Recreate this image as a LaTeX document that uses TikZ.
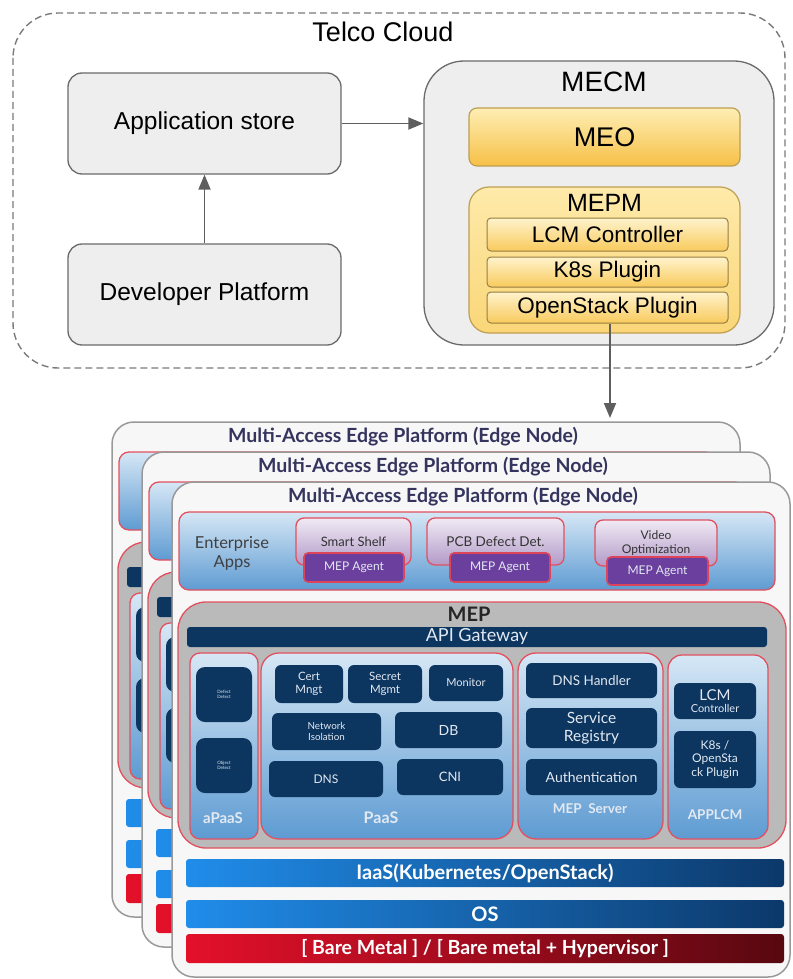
\documentclass[tikz,border=0pt]{standalone}
\usepackage{fontspec}
\setmainfont{Liberation Sans}
\newfontfamily\latofont{Lato}
\usepackage{tikz}
\usetikzlibrary{arrows.meta}
\definecolor{cloudline}{HTML}{7A7A7A}
\definecolor{boxline}{HTML}{6A6A6A}
\definecolor{boxfill}{HTML}{EEEEEE}
\definecolor{arrowgray}{HTML}{5E5E5E}
\definecolor{yelline}{HTML}{BE9E52}
\definecolor{redline}{HTML}{E2505F}
\definecolor{navy}{HTML}{0C355F}
\definecolor{titleblue}{HTML}{34345E}
\definecolor{agentfill}{HTML}{6B3F9E}
\definecolor{lighttext}{HTML}{E2E9F2}
\newcommand{\fsz}[2]{\fontsize{#1}{#2}\selectfont}
% only the front card shows its labels
\newcommand{\fronttext}[1]{\ifnum\k=3 #1\fi}
\tikzset{
    wh/.style 2 args={minimum width=#1, minimum height=#2, inner sep=0pt},
    cloud/.style={draw=cloudline, line width=1.4pt, dash pattern=on 7pt off 4pt, rounded corners=45pt},
    graybox/.style={draw=boxline, line width=1.3pt, fill=boxfill, rounded corners=14pt, font=\fsz{24.5}{28}},
    yelbox/.style={draw=yelline, line width=1.2pt, top color={rgb,255:red,254;green,238;blue,180}, bottom color={rgb,255:red,246;green,192;blue,70}, rounded corners=8pt},
    plugbox/.style={draw=yelline!80!black, line width=1pt, top color={rgb,255:red,255;green,243;blue,205}, bottom color={rgb,255:red,248;green,202;blue,92}, rounded corners=4pt, font=\fsz{22.5}{26}},
    arr/.style={draw=arrowgray, line width=1.8pt, -{Triangle[length=15pt,width=12pt]}},
    card/.style={draw=black!40, line width=1.5pt, fill=black!3, rounded corners=22pt},
    lato/.style={font=\latofont\fontsize{#1}{1.15\dimexpr#1pt\relax}\selectfont},
    latob/.style={font=\latofont\bfseries\fontsize{#1}{1.15\dimexpr#1pt\relax}\selectfont},
    band/.style={draw=redline, line width=1.3pt, top color={rgb,255:red,214;green,231;blue,245}, bottom color={rgb,255:red,94;green,155;blue,210}, rounded corners=10pt},
    appbox/.style={draw=redline, line width=1.3pt, top color={rgb,255:red,240;green,234;blue,244}, bottom color={rgb,255:red,178;green,154;blue,200}, rounded corners=8pt, text=black!80},
    agent/.style={draw=redline!85!purple, line width=1.6pt, fill=agentfill, rounded corners=4pt, text=lighttext},
    mepbox/.style={draw=redline, line width=1.3pt, fill=black!27, rounded corners=28pt},
    darkbox/.style={fill=navy, rounded corners=6pt, text=lighttext, align=center},
    bar/.style={left color={rgb,255:red,32;green,141;blue,234}, right color={rgb,255:red,12;green,56;blue,106}, rounded corners=3pt, text=white},
    redbar/.style={left color={rgb,255:red,228;green,16;blue,42}, right color={rgb,255:red,88;green,8;blue,16}, rounded corners=3pt, text=white},
}
\begin{document}
\begin{tikzpicture}[x=1pt,y=-1pt]
\useasboundingbox (0,0) rectangle (792,979);
% telco cloud
\draw[cloud] (13,13) rectangle (785,368);
\node[font=\fsz{27}{30}] (telco) at (383,32) {Telco Cloud};
\node[graybox, wh={273}{101}] (store) at (204.5,123.5) {Application store};
\node[graybox, wh={273}{101}] (devplat) at (204.5,294.5) {Developer Platform};
\node[graybox, wh={350}{284}, rounded corners=40pt] (mecm) at (599,203) {};
\node[font=\fsz{28}{30}] (mecmlbl) at (604,82) {MECM};
\node[yelbox, wh={271}{58}, font=\fsz{27}{30}] (meo) at (604.5,137) {MEO};
\node[yelbox, wh={271}{146}, rounded corners=20pt, top color={rgb,255:red,254;green,234;blue,170}, bottom color={rgb,255:red,250;green,214;blue,120}] (mepm) at (604.5,260) {};
\node[font=\fsz{25}{28}] (mepmlbl) at (604.5,203) {MEPM};
\node[plugbox, wh={241}{33}] (lcm) at (607.5,234.5) {LCM Controller};
\node[plugbox, wh={241}{30}] (k8s) at (607.5,272) {K8s Plugin};
\node[plugbox, wh={241}{31}] (ostack) at (607.5,307.5) {OpenStack Plugin};
\coordinate (edgein) at (610,418);
\draw[arr] (devplat) -- (store);
\draw[arr] (store.east) -- (store.east -| mecm.west);
\draw[arr] (ostack.south -| edgein) -- (edgein);
% edge nodes, back to front
\foreach \k/\dx/\w in {1/-60/628,2/-30/628,3/0/618}{
\begin{scope}[shift={(\dx,\dx)}]
\node[card, wh={\w}{495}] (card-\k) at ({172+\w/2},729.5) {};
\node[latob=19.5, text=titleblue] (title-\k) at (463,497) {Multi-Access Edge Platform (Edge Node)};
\node[band, wh={596}{78}] (apps-\k) at (477,551) {};
\node[lato=16.5, align=center, text=black!75] (appslbl-\k) at (232,553) {\fronttext{Enterprise\\Apps}};
\node[appbox, wh={115}{47}, lato=13] (shelf-\k) at (353.5,541.5) {\fronttext{Smart Shelf}};
\node[agent, wh={100}{29}, lato=12] (agent1-\k) at (354,567.5) {\fronttext{MEP Agent}};
\node[appbox, wh={137}{47}, lato=13.5] (pcb-\k) at (495.5,541.5) {\fronttext{PCB Defect Det.}};
\node[agent, wh={100}{29}, lato=12] (agent2-\k) at (500,567.5) {\fronttext{MEP Agent}};
\node[appbox, wh={122}{46}, lato=12, align=center] (video-\k) at (656,543) {\fronttext{Video\\Optimization}};
\node[agent, wh={101}{28}, lato=12] (agent3-\k) at (657.5,571) {\fronttext{MEP Agent}};
% MEP
\node[mepbox, wh={608}{246}] (mep-\k) at (482,725) {};
\node[latob=20, text=black!85] (meplbl-\k) at (469,614) {\fronttext{MEP}};
\node[darkbox, wh={580}{20}, rounded corners=3pt, lato=18] (gateway-\k) at (477,637) {\fronttext{API Gateway}};
\node[band, wh={68}{186}] (apaas-\k) at (224,746) {};
\node[band, wh={252}{186}, rounded corners=18pt] (paas-\k) at (387,746) {};
\node[band, wh={145}{186}, rounded corners=18pt] (mepsrv-\k) at (590.5,746) {};
\node[band, wh={100}{184}, rounded corners=14pt] (applcm-\k) at (718,747) {};
\node[darkbox, wh={56}{55}, lato=4.5, rounded corners=9pt] (defect-\k) at (224,694.5) {\fronttext{Defect\\Detect}};
\node[darkbox, wh={56}{55}, lato=4.5, rounded corners=9pt] (object-\k) at (224,765.5) {\fronttext{Object\\Detect}};
\node[darkbox, wh={68}{38}, lato=11.5] (cert-\k) at (309,684) {\fronttext{Cert\\Mngt}};
\node[darkbox, wh={74}{38}, lato=11.5] (secret-\k) at (385,684) {\fronttext{Secret\\Mgmt}};
\node[darkbox, wh={74}{36}, lato=11] (monitor-\k) at (466,683) {\fronttext{Monitor}};
\node[darkbox, wh={109}{37}, lato=9.8] (netiso-\k) at (326.5,731.5) {\fronttext{Network\\Isolation}};
\node[darkbox, wh={107}{36}, lato=14] (db-\k) at (448.5,730) {\fronttext{DB}};
\node[darkbox, wh={114}{36}, lato=12] (dns-\k) at (326,779) {\fronttext{DNS}};
\node[darkbox, wh={106}{36}, lato=13] (cni-\k) at (450,777) {\fronttext{CNI}};
\node[darkbox, wh={131}{35}, lato=13.5] (dnsh-\k) at (591.5,680.5) {\fronttext{DNS Handler}};
\node[darkbox, wh={131}{40}, lato=15.5] (svc-\k) at (591.5,728) {\fronttext{Service\\Registry}};
\node[darkbox, wh={131}{36}, lato=14] (auth-\k) at (591.5,777) {\fronttext{Authentication}};
\node[darkbox, wh={82}{36}, lato=11] (lcmc-\k) at (715,701) {\fronttext{{\fsz{15}{16}LCM}\\Controller}};
\node[darkbox, wh={82}{57}, lato=12] (k8sp-\k) at (715,759.5) {\fronttext{K8s /\\OpenSta\\ck Plugin}};
\node[latob=15, text=lighttext] (apaaslbl-\k) at (223,818) {\fronttext{aPaaS}};
\node[latob=16, text=lighttext] (paaslbl-\k) at (381,818) {\fronttext{PaaS}};
\node[latob=13.5, text=lighttext] (mepsrvlbl-\k) at (590,809) {\fronttext{MEP\ \ Server}};
\node[latob=13.5, text=lighttext] (applcmlbl-\k) at (715,815) {\fronttext{APPLCM}};
% layers
\node[bar, wh={598}{28}, latob=20] (iaas-\k) at (485,873) {\fronttext{IaaS(Kubernetes/OpenStack)}};
\node[bar, wh={598}{28}, latob=20] (os-\k) at (485,914) {\fronttext{OS}};
\node[redbar, wh={598}{29}, latob=19.5] (bare-\k) at (485,948.5) {\fronttext{[ Bare Metal ] / [ Bare metal + Hypervisor ]}};
\end{scope}
}
\end{tikzpicture}
\end{document}
